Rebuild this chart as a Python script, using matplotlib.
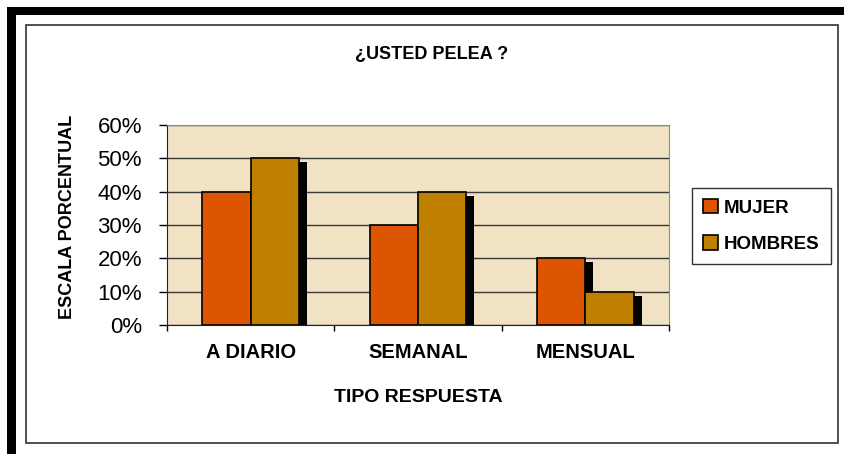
import matplotlib
matplotlib.use("Agg")
import matplotlib.pyplot as plt
import matplotlib.patches as mpatches
import numpy as np
from matplotlib.ticker import FixedLocator, FuncFormatter

plt.rcParams['font.family'] = ['Liberation Sans', 'DejaVu Sans']

# Data
categories = ['A DIARIO', 'SEMANAL', 'MENSUAL']
mujer = [40, 30, 20]
hombres = [50, 40, 10]
series_names = ['MUJER', 'HOMBRES']
colors = ['#DD5500', '#BF8000']

W, H = 845, 454
fig = plt.figure(figsize=(W / 100, H / 100), dpi=100)
fig.patch.set_facecolor('white')


def px(x0, y0, w, h):
    """pixel box (top-left origin) -> figure fraction rect"""
    return (x0 / W, 1 - (y0 + h) / H, w / W, h / H)


# outer black frame (top + left) and inner chart box, kept behind the axes
for (x0, y0, w, h) in [(7, 7, W - 7, 8), (7, 7, 9, H - 7)]:
    fx, fy, fw, fh = px(x0, y0, w, h)
    fig.patches.append(mpatches.Rectangle((fx, fy), fw, fh, transform=fig.transFigure,
                                          facecolor='black', edgecolor='none', zorder=-10))
fx, fy, fw, fh = px(26, 25, 812, 418)
fig.patches.append(mpatches.Rectangle((fx, fy), fw, fh, transform=fig.transFigure,
                                      facecolor='white', edgecolor='#333333',
                                      linewidth=1.2, zorder=-10))

ax = fig.add_axes(px(167, 125, 502, 200))
ax.set_zorder(5)
ax.set_facecolor('#F0E2C3')

x = np.arange(len(categories))
width = 0.288
offset = 0.144
shadow_dx = 0.048
shadow_dy = 1.2

for i, (vals, col, name) in enumerate(zip([mujer, hombres], colors, series_names)):
    pos = x + (i * 2 - 1) * offset
    ax.bar(pos + shadow_dx, np.array(vals) - shadow_dy, width, color='black',
           edgecolor='none', zorder=2 + i * 2)
    ax.bar(pos, vals, width, color=col, edgecolor='black', linewidth=1.2,
           label=name, zorder=3 + i * 2)

ax.set_xlim(-0.5, 2.5)
ax.set_ylim(0, 60)

# gridlines
ax.yaxis.set_major_locator(FixedLocator([0, 10, 20, 30, 40, 50, 60]))
ax.yaxis.set_major_formatter(FuncFormatter(lambda v, p: f'{v:.0f}%'))
ax.grid(axis='y', color='#3a3a3a', linewidth=1.0, zorder=1)
ax.set_axisbelow(True)

ax.tick_params(axis='y', direction='out', length=6, width=1, pad=12,
               labelsize=16, colors='black')
ax.xaxis.set_major_locator(FixedLocator([-0.5, 0.5, 1.5, 2.5]))
ax.xaxis.set_major_formatter(FuncFormatter(lambda v, p: ''))
ax.xaxis.set_minor_locator(FixedLocator(x))
ax.set_xticklabels(categories, minor=True)
ax.tick_params(axis='x', which='major', direction='out', length=4, width=1)
ax.tick_params(axis='x', which='minor', length=0, pad=13, labelsize=14.5)
for lbl in ax.get_xticklabels(minor=True):
    lbl.set_fontweight('bold')

for side in ['top', 'right']:
    ax.spines[side].set_color('#8a8a8a')
for side in ['left', 'bottom']:
    ax.spines[side].set_color('#222222')

# texts
fig.text(432 / W, 1 - 54 / H, '¿USTED PELEA ?', ha='center', va='center',
         fontsize=13, fontweight='bold')
fig.text(418 / W, 1 - 397 / H, 'TIPO RESPUESTA', ha='center', va='center',
         fontsize=14, fontweight='bold')
fig.text(68 / W, 1 - 217 / H, 'ESCALA PORCENTUAL', ha='center', va='center',
         rotation=90, fontsize=13, fontweight='bold')

leg = ax.legend(loc='center left', bbox_to_anchor=(692 / W, 1 - 226 / H),
                bbox_transform=fig.transFigure, fontsize=13.5, frameon=True,
                fancybox=False, edgecolor='black', handlelength=0.8,
                handleheight=0.8, handletextpad=0.3, labelspacing=1.0,
                borderpad=0.6, borderaxespad=0)
leg.get_frame().set_linewidth(1.0)
for t in leg.get_texts():
    t.set_fontweight('bold')

fig.savefig('out.png', dpi=100, facecolor='white')
